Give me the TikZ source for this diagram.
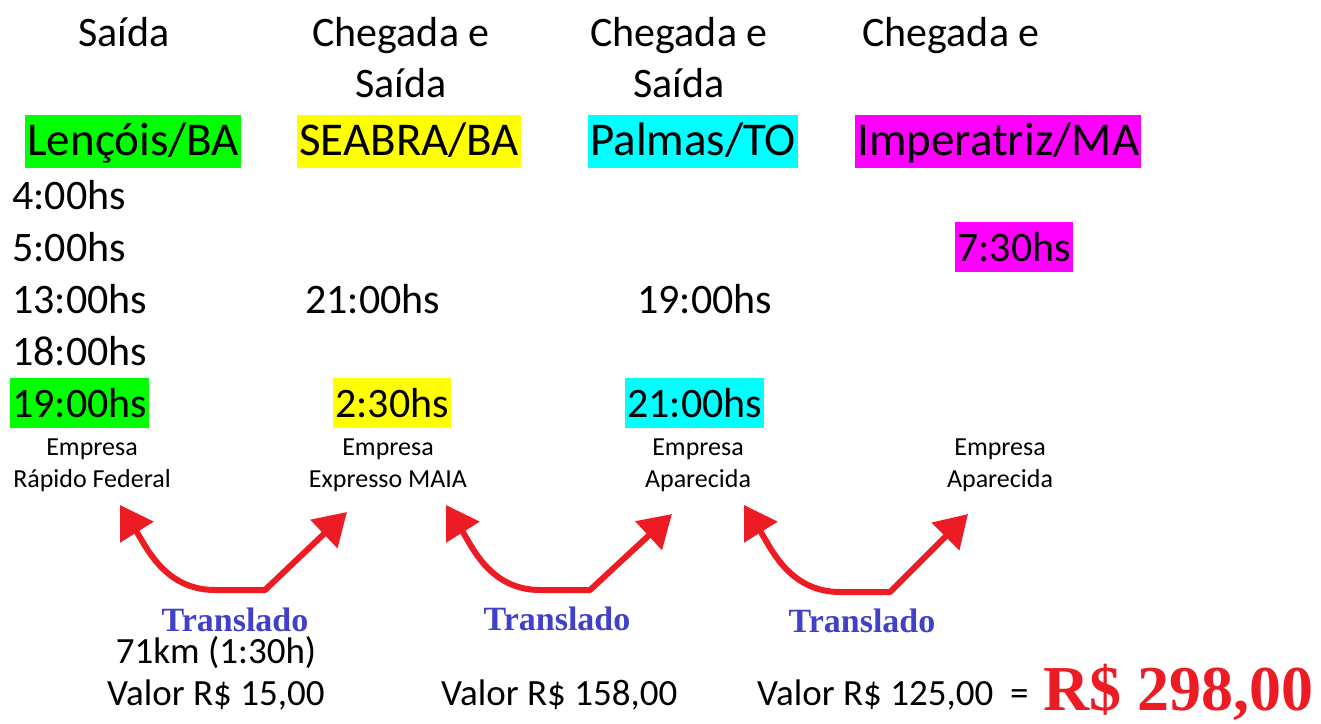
\documentclass[tikz,border=0pt]{standalone}
\usepackage{fontspec}
\setmainfont{Carlito}
\newfontfamily\timesbf{Liberation Serif}
\usetikzlibrary{arrows.meta, positioning}
\definecolor{verdehl}{RGB}{0,255,0}
\definecolor{amarelohl}{RGB}{255,255,0}
\definecolor{cianohl}{RGB}{0,255,255}
\definecolor{magentahl}{RGB}{255,0,255}
\definecolor{vermelho}{RGB}{237,28,36}
\definecolor{azultransl}{RGB}{64,64,200}

\begin{document}
\begin{tikzpicture}[x=1pt, y=-1pt,
      hdr/.style={font=\fontsize{42}{51}\selectfont, align=center,
                  anchor=base, inner sep=0pt},
      city/.style={font=\fontsize{47}{56}\selectfont, anchor=base west,
                   inner xsep=2pt, inner ysep=0pt,
                   text height=40pt, text depth=13pt},
      hora/.style={font=\fontsize{42}{51}\selectfont, anchor=base west,
                   inner xsep=2pt, inner ysep=0pt,
                   text height=39pt, text depth=11pt},
      emp/.style={font=\fontsize{26}{32}\selectfont, align=center,
                  anchor=base, inner sep=0pt},
      valor/.style={font=\fontsize{37}{44}\selectfont, anchor=base west,
                    inner sep=0pt},
      transl/.style={font=\timesbf\bfseries\fontsize{34}{40}\selectfont,
                     text=azultransl, anchor=base, inner sep=0pt},
      transfer/.style={draw=vermelho, line width=6pt, line join=round,
                       {Triangle[length=32pt,width=38pt]}-{Triangle[length=32pt,width=38pt]}}]

    \useasboundingbox (0,0) rectangle (1321,723);

    % column headers (base = last line)
    \node[hdr] (hsai) at (124,46) {Saída};
    \node[hdr] (hsea) at (401,97) {Chegada e\\Saída};
    \node[hdr] (hpal) at (679,97) {Chegada e\\Saída};
    \node[hdr] (himp) at (951,46) {Chegada e};

    % cities
    \node[city, fill=verdehl]   (len) at (25,155)  {Lençóis/BA};
    \node[city, fill=amarelohl] (sea) at (297,155) {SEABRA/BA};
    \node[city, fill=cianohl]   (pal) at (588,155) {Palmas/TO};
    \node[city, fill=magentahl] (imp) at (855,155) {Imperatriz/MA};

    % departure times
    \node[hora] (t4)  at (10,209) {4:00hs};
    \node[hora] (t5)  at (10,261) {5:00hs};
    \node[hora] (t13) at (10,313) {13:00hs};
    \node[hora] (t18) at (10,365) {18:00hs};
    \node[hora, fill=verdehl] (t19) at (10,417) {19:00hs};

    \node[hora] (sea21) at (303,313) {21:00hs};
    \node[hora, fill=amarelohl] (sea230) at (333,417) {2:30hs};
    \node[hora] (pal19) at (635,313) {19:00hs};
    \node[hora, fill=cianohl] (pal21) at (625,417) {21:00hs};
    \node[hora, fill=magentahl] (imp730) at (955,261) {7:30hs};

    % bus companies (base = last line)
    \node[emp] (erap) at (92,487)   {Empresa\\Rápido Federal};
    \node[emp] (emaia) at (388,487) {Empresa\\Expresso MAIA};
    \node[emp] (eapa) at (698,487)  {Empresa\\Aparecida};
    \node[emp] (eapb) at (1000,487) {Empresa\\Aparecida};

    % transfers
    \coordinate (a1s) at (120,505); \coordinate (a1b) at (215,590);
    \coordinate (a1c) at (265,590); \coordinate (a1e) at (347,512);
    \draw[transfer] (a1s) to[out=-58,in=180] (a1b) -- (a1c) -- (a1e);
    \coordinate (a2s) at (446,505); \coordinate (a2b) at (540,590);
    \coordinate (a2c) at (590,590); \coordinate (a2e) at (672,514);
    \draw[transfer] (a2s) to[out=-58,in=180] (a2b) -- (a2c) -- (a2e);
    \coordinate (a3s) at (744,505); \coordinate (a3b) at (840,592);
    \coordinate (a3c) at (890,592); \coordinate (a3e) at (968,514);
    \draw[transfer] (a3s) to[out=-58,in=180] (a3b) -- (a3c) -- (a3e);

    \node[transl] (tr1) at (235,631) {Translado};
    \node[transl] (tr2) at (557,630) {Translado};
    \node[transl] (tr3) at (862,632) {Translado};

    % prices
    \node[valor, anchor=base] (km) at (216,663) {71km (1:30h)};
    \node[valor] (v1) at (107,705) {Valor R\$ 15,00};
    \node[valor] (v2) at (441,705) {Valor R\$ 158,00};
    \node[valor] (v3) at (757,705) {Valor R\$ 125,00\ \ =};
    \node[anchor=base west, inner sep=0pt, text=vermelho,
          font=\timesbf\bfseries\fontsize{64}{70}\selectfont]
          (total) at (1043,710) {R\$ 298,00};
  \end{tikzpicture}
\end{document}
